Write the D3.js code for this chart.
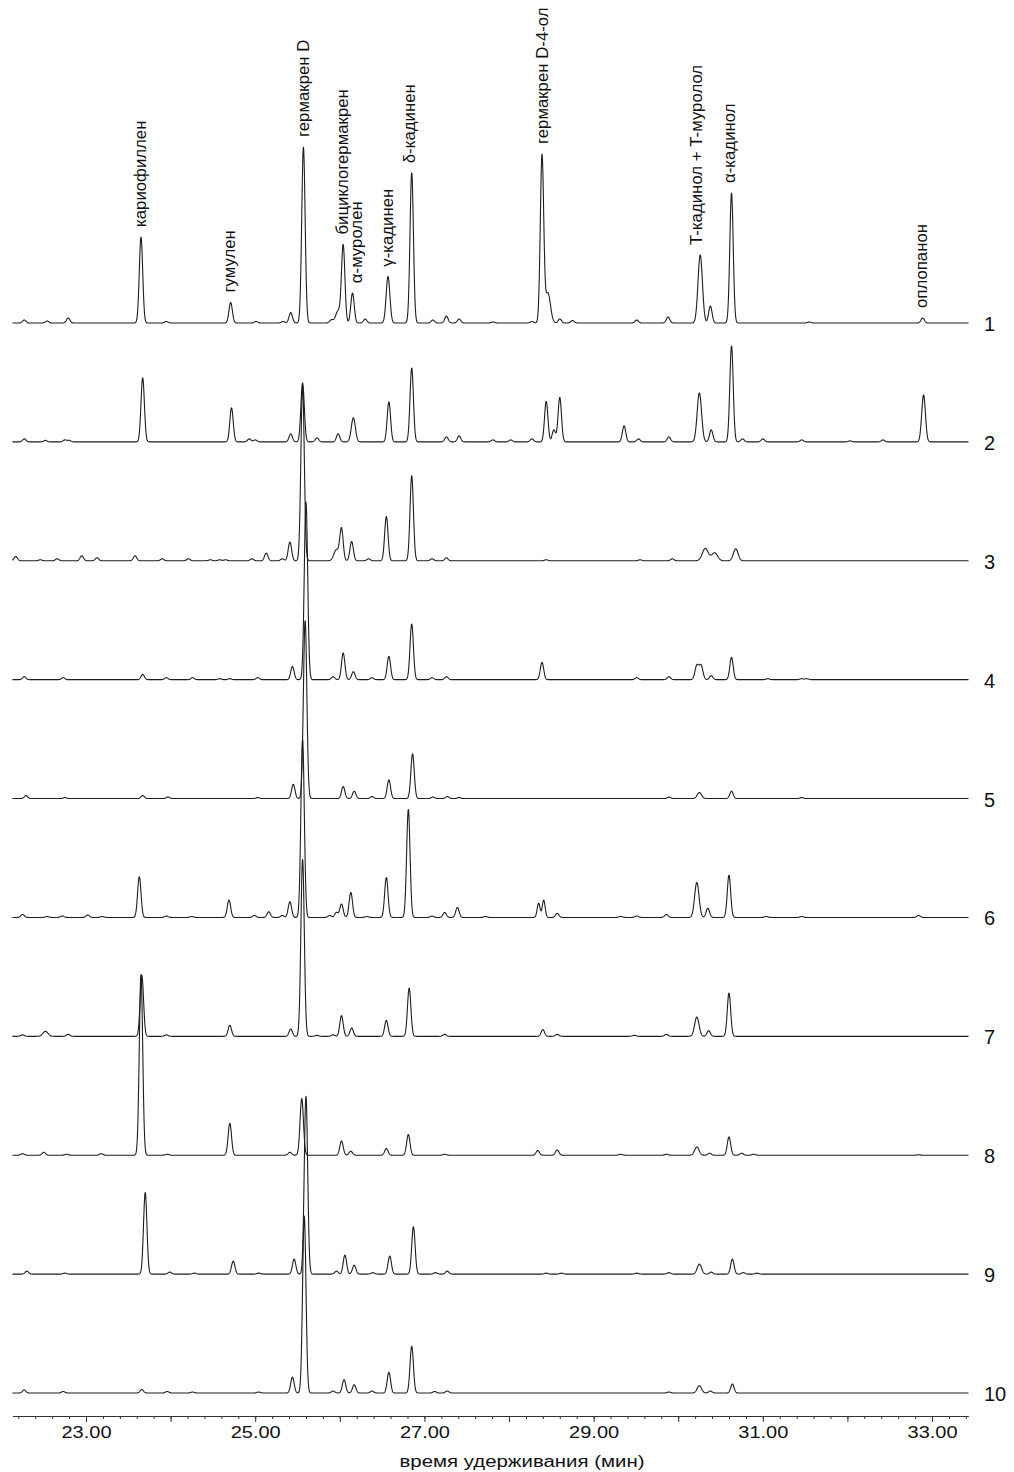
<!DOCTYPE html>
<html>
<head>
<meta charset="utf-8">
<script src="https://cdn.jsdelivr.net/npm/d3@7"></script>
<style>
  body { margin: 0; background: #fff; }
  svg { display: block; font-family: "Liberation Sans", Arial, sans-serif; }
</style>
</head>
<body>
<svg id="chart" width="1014" height="1472"></svg>
<script>
// sample numbers, top to bottom
const traceNames = ["1", "2", "3", "4", "5", "6", "7", "8", "9", "10"];

// peaks: [retention time (min), height, optional width (min)]
const trace1 = [[22.27,3],[22.54,2],[22.79,5],[23.65,86],[23.95,1.5],[24.71,20.5],[25.01,1.5],[25.33,1.5],[25.42,10.5],[25.57,176],[25.90,3],[25.98,12,0.03],[26.04,77],[26.15,30],[26.30,4],[26.57,46.5,0.022],[26.85,150.5],[27.10,3],[27.26,7],[27.41,4],[27.81,1],[28.27,1.5],[28.39,167],[28.46,30,0.03],[28.60,4],[28.75,2.5],[29.51,3],[29.88,6],[30.26,68,0.026],[30.38,17],[30.63,130],[31.55,1],[32.89,5]];
const trace2 = [[22.27,3],[22.52,1.5],[22.75,2],[22.80,1.5],[23.67,64],[24.72,34],[24.93,3],[25.00,2],[25.42,8],[25.56,59],[25.73,4],[25.98,8],[26.16,24,0.024],[26.58,40],[26.85,74],[27.26,5],[27.41,6],[27.81,2],[28.02,2],[28.27,3],[28.44,40.5],[28.53,12],[28.60,44.5],[29.36,16],[29.53,3],[29.89,5],[30.25,49,0.026],[30.39,12],[30.63,96],[30.76,3],[31.00,3],[31.46,2],[32.03,1],[32.42,2],[32.90,47,0.022]];
const trace3 = [[22.17,4.3],[22.46,1],[22.66,2],[22.95,5],[23.13,3],[23.58,5],[23.90,2],[24.21,2],[24.47,1],[24.58,1],[24.65,1],[24.96,2],[25.13,7.7],[25.32,2],[25.41,18.7],[25.56,175],[25.96,11,0.03],[26.02,31.7],[26.14,19.3],[26.34,2],[26.55,44.3],[26.85,85],[27.09,2],[27.26,3],[28.44,1],[29.55,1],[29.93,2],[30.32,12.3,0.035],[30.43,8,0.035],[30.68,12,0.028]];
const trace4 = [[22.27,3],[22.73,2],[23.67,5.3],[23.95,2],[24.26,2],[24.58,1],[24.70,1],[25.03,2],[25.44,13.3],[25.60,178],[25.92,3],[26.04,26.7],[26.16,8],[26.38,2],[26.58,23.3],[26.85,55.7],[27.09,2],[27.26,3],[28.39,17.3],[29.51,2],[29.89,3],[30.22,14,0.022],[30.27,14,0.022],[30.39,4],[30.63,22.3],[31.06,1],[31.46,1],[31.52,1]];
const trace5 = [[22.29,3],[22.75,1],[23.67,3],[23.97,1.5],[25.03,1],[25.45,14.3],[25.59,178],[26.04,12],[26.17,7.3],[26.38,2],[26.58,18.7],[26.86,44.7],[27.10,1.5],[27.27,2],[27.41,1],[29.89,1.5],[30.25,6,0.026],[30.63,7.3],[31.46,1]];
const trace6 = [[22.25,3],[22.54,1],[22.72,1.5],[23.02,2.5],[23.19,1],[23.63,40.7],[23.95,1.5],[24.25,1],[24.69,17.3],[24.99,2],[25.16,5.7],[25.32,2],[25.41,15.7],[25.56,178],[25.88,2],[25.96,5],[26.02,13.3],[26.13,25],[26.32,1],[26.55,40],[26.81,108],[27.09,1.5],[27.24,5],[27.39,10],[27.72,1],[28.35,14.3,0.017],[28.41,17.3,0.017],[28.57,4],[29.32,1],[29.51,1.5],[29.86,3],[30.22,35,0.026],[30.35,9.3],[30.60,42.3],[31.04,1],[31.46,1],[32.84,2]];
const trace7 = [[22.25,1.5],[22.52,5,0.03],[22.79,2],[23.66,61],[23.95,1.5],[24.70,11],[25.42,7.3],[25.56,177],[25.73,1],[25.92,1.5],[26.02,20.7],[26.14,8.3],[26.55,16],[26.82,48.3],[27.24,2],[28.40,6.7],[28.57,2],[29.48,1],[29.86,2],[30.22,19.3,0.026],[30.36,5.7],[30.60,43.3]];
const trace8 = [[22.25,1.5],[22.50,3],[22.77,1],[23.18,1.5],[23.65,181],[23.96,1],[24.70,32],[25.41,3],[25.55,56.7],[26.02,14.3],[26.13,4],[26.55,6.7],[26.81,20.7],[27.24,1],[28.34,4.7],[28.57,5.3],[29.32,1],[29.86,1],[30.22,8.3,0.026],[30.37,2],[30.60,18.3],[30.75,2],[30.89,1],[32.84,0.5]];
const trace9 = [[22.30,3],[22.75,1],[23.70,81.7],[23.99,2],[24.28,1],[24.74,13],[25.04,1],[25.46,15],[25.60,178],[25.96,3],[26.06,19],[26.17,9],[26.39,1.5],[26.59,18],[26.87,47.3],[27.13,1.5],[27.27,3],[28.44,1],[28.62,1],[29.51,1],[29.89,1.5],[30.25,10,0.026],[30.39,2],[30.64,15],[30.77,1.5],[30.93,1]];
const trace10 = [[22.27,3],[22.73,1.5],[23.66,3.5],[23.96,1.5],[24.26,1],[25.04,1],[25.44,16],[25.58,177],[25.92,2],[26.05,13.3],[26.17,8.3],[26.38,2],[26.58,20.7],[26.85,46.7],[27.12,1.5],[27.27,2],[29.89,1],[30.25,7.3,0.026],[30.38,2],[30.64,9]];
const traces = [trace1, trace2, trace3, trace4, trace5, trace6, trace7, trace8, trace9, trace10];

// compound labels above trace 1
const compoundNames = ["кариофиллен", "гумулен", "гермакрен D", "бициклогермакрен", "α-муролен", "γ-кадинен", "δ-кадинен", "гермакрен D-4-ол", "T-кадинол + T-муролол", "α-кадинол", "оплопанон"];
const compoundTimes = [23.65, 24.70, 25.57, 26.03, 26.20, 26.56, 26.82, 28.39, 30.22, 30.61, 32.88];

const majorTicks = [23, 25, 27, 29, 31, 33];
const axisTitle = "время удерживания (мин)";

const svg = d3.select("#chart");

const x = d3.scaleLinear().domain([22.13, 33.43]).range([12.4, 968.4]);
const baseline = d3.scalePoint().domain(traceNames).range([323, 1393]);
const y = d3.scaleLinear().domain([0, 180]).range([0, -180]);

const step = 0.003;
const times = d3.range(x.domain()[0], x.domain()[1] + step / 2, step);

// chromatogram signal = sum of the read peaks
const signal = (peaks, t) =>
  d3.sum(peaks, ([rt, h, s = 0.02]) => h * Math.exp(-((t - rt) ** 2) / (2 * s * s)));

const line = d3.line()
  .x(d => x(d[0]))
  .y(d => d[1]);

traceNames.forEach((name, i) => {
  const b = baseline(name);
  const pts = times.map(t => [t, b + y(signal(traces[i], t))]);

  svg.append("path")
    .attr("d", line(pts))
    .attr("fill", "none")
    .attr("stroke", "#1e1e1e")
    .attr("stroke-width", 1.1)
    .attr("stroke-linejoin", "round");

  svg.append("text")
    .attr("x", 984)
    .attr("y", b + 8)
    .attr("font-size", 20)
    .attr("fill", "#111")
    .text(name);
});

// peak names, rotated, sitting just above trace 1
const b1 = baseline(traceNames[0]);
compoundNames.forEach((name, i) => {
  const t0 = compoundTimes[i];
  const top = d3.max(d3.range(t0 - 0.06, t0 + 0.06, 0.004), t => signal(trace1, t));
  const ly = b1 + y(top) - 10;
  svg.append("text")
    .attr("transform", `translate(${x(t0)},${ly}) rotate(-90)`)
    .attr("dominant-baseline", "central")
    .attr("font-size", 16.8)
    .attr("fill", "#111")
    .text(name);
});

// x axis
const axisY = 1416;
const minorTicks = d3.range(111, 168).map(i => i / 5);

const minor = svg.append("g")
  .attr("transform", `translate(0,${axisY})`)
  .call(d3.axisBottom(x).tickValues(minorTicks).tickSize(3).tickSizeOuter(0).tickFormat(""));
minor.select(".domain").attr("stroke", "#333");
minor.selectAll(".tick line").attr("stroke", "#333");

const major = svg.append("g")
  .attr("transform", `translate(0,${axisY})`)
  .call(d3.axisBottom(x).tickValues(d3.range(23, 34)).tickSize(6).tickSizeOuter(0)
    .tickFormat(d => majorTicks.includes(d) ? d3.format(".2f")(d) : ""));
major.select(".domain").remove();
major.selectAll(".tick line").attr("stroke", "#333");
major.selectAll(".tick text")
  .attr("y", 11)
  .attr("font-family", "'Liberation Sans', Arial, sans-serif")
  .attr("font-size", 16)
  .attr("fill", "#111")
  .filter(function () { return this.textContent !== ""; })
  .attr("textLength", 50)
  .attr("lengthAdjust", "spacingAndGlyphs");

svg.append("text")
  .attr("x", 522)
  .attr("y", 1467)
  .attr("text-anchor", "middle")
  .attr("font-size", 16)
  .attr("fill", "#111")
  .attr("textLength", 245)
  .attr("lengthAdjust", "spacingAndGlyphs")
  .text(axisTitle);
</script>
</body>
</html>
